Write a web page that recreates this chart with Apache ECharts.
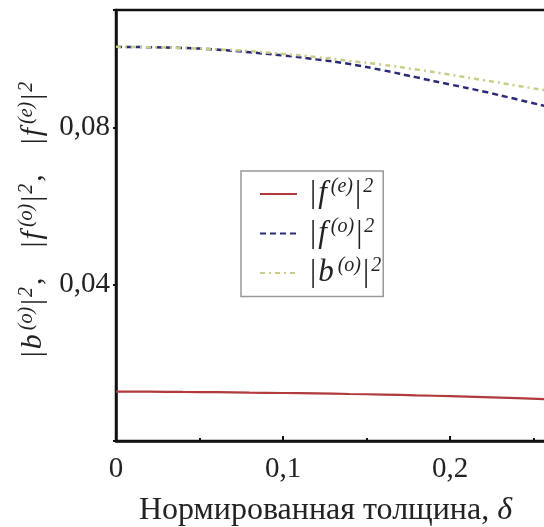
<!DOCTYPE html>
<html>
<head>
<meta charset="utf-8">
<script src="https://cdn.jsdelivr.net/npm/echarts@6/dist/echarts.min.js"></script>
<style>html,body{margin:0;padding:0;background:#fff;}#c{width:544px;height:527px;}</style>
</head>
<body>
<div id="c"></div>
<script>
// ---- data ----
var delta = [0, 0.02, 0.04, 0.06, 0.08, 0.10, 0.12, 0.14, 0.16, 0.18, 0.20, 0.22, 0.24, 0.26];
var fe2 = [0.0126, 0.01258, 0.01252, 0.01245, 0.01235, 0.01225, 0.01215, 0.01200, 0.01185, 0.01165, 0.01145, 0.01120, 0.01095, 0.01065];
var fo2 = [0.1006, 0.1005, 0.1003, 0.0999, 0.0992, 0.0984, 0.0974, 0.0962, 0.0946, 0.0928, 0.0910, 0.0892, 0.0872, 0.0852];
var bo2 = [0.1006, 0.1005, 0.1003, 0.1000, 0.0995, 0.0988, 0.0980, 0.0970, 0.0960, 0.0948, 0.0935, 0.0921, 0.0907, 0.0893];
var seriesNames = ['fe', 'fo', 'bo'];
var legendLabels = ['{p||}{i|f}{s|(e)}{n||}{s|2}', '{p||}{i|f}{s|(o)}{n||}{s|2}', '{p||}{i|b}{s|(o)}{n||}{s|2}'];
var xTicks = [0, 0.1, 0.2];
var xTickLabels = ['0', '0,1', '0,2'];
var yTicks = [0.04, 0.08];
var yTickLabels = ['0,04', '0,08'];
var xTitle = 'Нормированная толщина, {i|δ}';
var yTitle = '{n||}{i|b}{s|(o)}{n||}{s|2}{n|,    |}{i|f}{s|(o)}{n||}{s|2}{n|,    |}{i|f}{s|(e)}{n||}{s|2}';

var SERIF = 'Liberation Serif';
function pairs(ys){ return delta.map(function(x,i){ return [x, ys[i]]; }); }
function lookup(ticks, labels, v){
  for (var i=0;i<ticks.length;i++){ if (Math.abs(ticks[i]-v) < 1e-9) return labels[i]; }
  return '';
}
function makeRich(big, small, raise){
  return {
    p: {fontFamily: SERIF, fontSize: big, color: '#222', padding: [0, 1, 0, 8]},
    n: {fontFamily: SERIF, fontSize: big, color: '#222', padding: [0, 1, 0, 1]},
    i: {fontFamily: SERIF, fontSize: big, fontStyle: 'italic', color: '#222', padding: [0, 3, 0, 1]},
    s: {fontFamily: SERIF, fontSize: small, fontStyle: 'italic', color: '#222', verticalAlign: 'top', padding: [0, 1, raise, 1]}
  };
}
var legendRich = makeRich(31, 20, 14);
var yRich = makeRich(30, 20, 14);
var xRich = {i: {fontFamily: SERIF, fontSize: 32, fontStyle: 'italic', color: '#222'}};

var chart = echarts.init(document.getElementById('c'), null, {renderer: 'canvas'});
chart.setOption({
  backgroundColor: '#fff',
  animation: false,
  grid: {left: 116, top: 10, right: -73, bottom: 86, outerBoundsMode: 'none', show: true, borderColor: '#111', borderWidth: 2.5, containLabel: false},
  legend: {
    orient: 'vertical', left: 241, top: 171,
    data: seriesNames,
    formatter: function(name){ return legendLabels[seriesNames.indexOf(name)]; },
    textStyle: {rich: legendRich, fontFamily: SERIF, fontSize: 31},
    itemStyle: {opacity: 0},
    itemWidth: 37, itemHeight: 14, itemGap: 7,
    padding: [6, 2, 8, 18],
    borderColor: '#999', borderWidth: 1.5, backgroundColor: '#fff'
  },
  xAxis: {
    type: 'value', min: 0, max: 0.3, interval: 0.1,
    axisLine: {show: true, lineStyle: {color: '#111', width: 2.5}},
    axisTick: {show: true, inside: true, length: 5, lineStyle: {color: '#111', width: 2}},
    minorTick: {show: true, splitNumber: 2, length: 3, lineStyle: {color: '#111', width: 2}},
    splitLine: {show: false},
    axisLabel: {margin: 14, fontFamily: SERIF, fontSize: 29, color: '#222',
      formatter: function(v){ return lookup(xTicks, xTickLabels, v); }},
    name: xTitle, nameLocation: 'middle', nameGap: 54,
    nameTextStyle: {fontFamily: SERIF, fontSize: 32, color: '#222', padding: [0, 82, 0, 0], rich: xRich}
  },
  yAxis: {
    type: 'value', min: 0, max: 0.11, interval: 0.04,
    axisLine: {show: true, lineStyle: {color: '#111', width: 2.5}},
    axisTick: {show: true, inside: false, length: 3, lineStyle: {color: '#111', width: 2}},
    splitLine: {show: false},
    axisLabel: {margin: 6, fontFamily: SERIF, fontSize: 29, color: '#222',
      formatter: function(v){ return lookup(yTicks, yTickLabels, v); }},
    name: yTitle, nameLocation: 'middle', nameGap: 64, nameRotate: 90,
    nameTextStyle: {fontFamily: SERIF, fontSize: 30, color: '#222', padding: [0, 0, 0, 12], rich: yRich}
  },
  series: [
    {name: 'fe', type: 'line', data: pairs(fe2), showSymbol: false, symbol: 'none', smooth: true,
     lineStyle: {color: '#b03a3c', width: 2.2}, itemStyle: {color: '#b03a3c'}},
    {name: 'fo', type: 'line', data: pairs(fo2), showSymbol: false, symbol: 'none', smooth: true,
     lineStyle: {color: '#2a2a78', width: 2.5, type: [6, 4]}, itemStyle: {color: '#2a2a78'}},
    {name: 'bo', type: 'line', data: pairs(bo2), showSymbol: false, symbol: 'none', smooth: true,
     lineStyle: {color: '#c9cc88', width: 2.5, type: [5, 4, 2, 4]}, itemStyle: {color: '#c9cc88'}}
  ]
});
</script>
</body>
</html>
